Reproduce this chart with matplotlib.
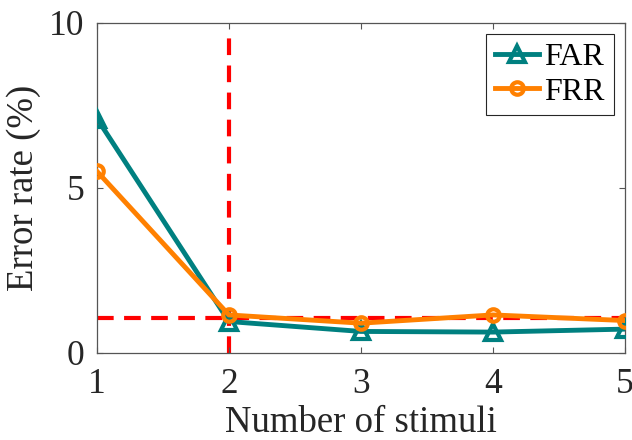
import matplotlib
matplotlib.use("Agg")
import matplotlib.pyplot as plt

stimuli = [1, 2, 3, 4, 5]
far = [7.1, 0.95, 0.65, 0.63, 0.72]
frr = [5.5, 1.15, 0.9, 1.15, 0.98]
thr_x = 2
thr_y = 1.05
xticks = [1, 2, 3, 4, 5]
yticks = [0, 5, 10]

plt.rcParams['font.family'] = ['Liberation Serif', 'DejaVu Serif']
txt = '#262626'

fig = plt.figure(figsize=(6.32, 4.40), dpi=100)
ax = fig.add_axes([0.1535, 0.198, 0.835, 0.750])

ax.plot([stimuli[0], stimuli[-1]], [thr_y, thr_y], color='#FF0000', lw=3,
        dashes=(4, 2.5), zorder=1)
ax.plot([thr_x, thr_x], [0, 9.85], color='#FF0000', lw=3,
        dashes=(4, 2.5), zorder=1)

ax.plot(stimuli, far, color='#008080', lw=3.5, marker='^', ms=11,
        mfc='none', mew=3, label='FAR', zorder=3)
ax.plot(stimuli, frr, color='#FF8000', lw=3.5, marker='o', ms=9,
        mfc='none', mew=3, label='FRR', zorder=4)

ax.set_xlim(1, 5)
ax.set_ylim(0, 10)
ax.set_xticks(xticks)
ax.set_yticks(yticks)
ax.tick_params(direction='in', top=True, right=True, length=4, width=0.8,
               colors='#555555', labelcolor=txt, labelsize=25.5)
ax.tick_params(axis='x', pad=11)
ax.tick_params(axis='y', pad=9)
for s in ax.spines.values():
    s.set_color('#555555')
    s.set_linewidth(0.9)

ax.set_xlabel('Number of stimuli', fontsize=26.5, color=txt, labelpad=3)
ax.set_ylabel('Error rate (%)', fontsize=26.5, color=txt, labelpad=6)

leg = ax.legend(loc='upper right', fontsize=23, frameon=True, fancybox=False,
                framealpha=1, edgecolor='#262626', handlelength=1.4,
                borderaxespad=0.35, handletextpad=0.15, borderpad=0.28,
                labelspacing=0.15)
leg.get_frame().set_linewidth(0.8)

fig.savefig('out.png', dpi=100)
